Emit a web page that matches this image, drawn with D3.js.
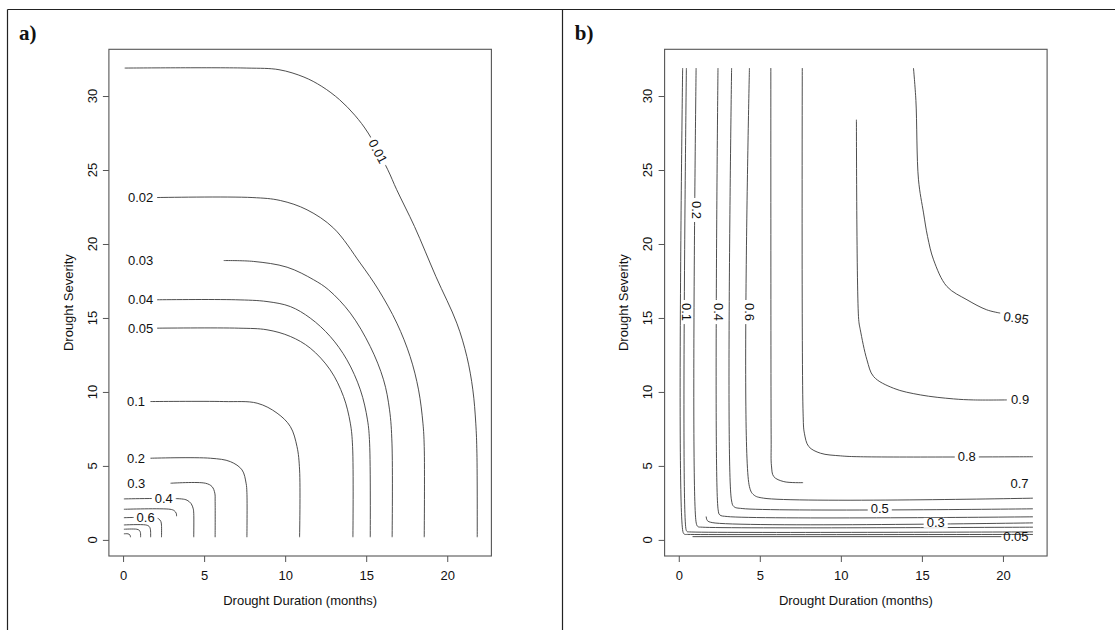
<!DOCTYPE html>
<html>
<head>
<meta charset="utf-8">
<script src="https://cdn.jsdelivr.net/npm/d3@7"></script>
<style>
  body { margin: 0; background: #fff; }
  svg text { font-family: "Liberation Sans", Arial, sans-serif; fill: #111; }
</style>
</head>
<body>
<svg id="chart" width="1115" height="630"></svg>
<script>
// data range of the grid (axes get R's 4% padding on top of it)
const xExtent = [0, 21.85]
const yExtent = [0.18, 31.89]
const xTicks = [0, 5, 10, 15, 20]
const yTicks = [0, 5, 10, 15, 20, 25, 30]
const xMinor = d3.range(0, 23)
const yMinor = d3.range(0, 34)

// panel a) contours, [duration, severity]
const a001 = [[0.1,31.89],[7.63,31.89],[9.62,31.78],[11.16,31.28],[12.26,30.65],[13.36,29.75],[14.3,28.7],[15.12,27.5],[16.33,25.02],[16.88,23.67],[17.98,21.18],[19.3,17.8],[20.59,14.65],[21.21,12.39],[21.58,10.14],[21.76,7.89],[21.83,5.86],[21.85,0.18]]
const a002 = [[2.1,23.14],[7.96,23.14],[9.7,22.94],[11.35,22.31],[12.99,21.07],[14.63,18.71],[15.76,16.9],[16.89,14.65],[17.71,12.39],[18.23,10.14],[18.5,7.89],[18.58,6.31],[18.58,0.18]]
const a003 = [[6.21,18.88],[8.06,18.82],[10.12,18.43],[11.76,17.58],[12.68,16.9],[14.02,15.33],[15.25,13.07],[16.07,10.82],[16.44,8.79],[16.59,6.54],[16.6,0.18]]
const a004 = [[2.1,16.23],[6.93,16.23],[8.88,16.11],[10.32,15.77],[11.55,14.99],[12.78,13.75],[13.81,12.17],[14.64,10.14],[15.08,8.11],[15.21,6.54],[15.25,0.18]]
const a005 = [[2.1,14.31],[7.14,14.31],[8.88,14.2],[10.32,13.75],[11.55,12.96],[12.78,11.49],[13.6,9.69],[14.02,7.89],[14.16,6.31],[14.18,0.18]]
const a01 = [[1.69,9.35],[6.21,9.35],[8.27,9.24],[9.5,8.57],[10.32,7.66],[10.73,6.31],[10.89,4.73],[10.89,0.18]]
const a02 = [[1.69,5.52],[5.39,5.52],[6.62,5.29],[7.34,4.73],[7.59,3.83],[7.64,3.2],[7.64,0.18]]
const a03 = [[2.93,3.83],[5.08,3.83],[5.49,3.6],[5.66,3.16],[5.68,2.6],[5.68,0.18]]
const a04 = [[0.05,2.77],[3.6,2.77],[3.95,2.68],[4.2,2.45],[4.33,2.1],[4.36,1.8],[4.36,0.18]]
const a05 = [[0.05,2.07],[2.9,2.07],[3.15,1.98],[3.28,1.8],[3.3,1.6]]
const a06 = [[0.05,1.5],[1.95,1.5],[2.2,1.42],[2.33,1.25],[2.37,1.0],[2.37,0.18]]
const a07 = [[0.05,1.01],[1.4,1.01],[1.6,0.92],[1.68,0.75],[1.7,0.18]]
const a08 = [[0.05,0.72],[0.85,0.72],[1.0,0.65],[1.07,0.5],[1.08,0.18]]
const a09 = [[0.05,0.41],[0.3,0.41],[0.42,0.34],[0.46,0.18]]
const linesA = [a001, a002, a003, a004, a005, a01, a02, a03, a04, a05, a06, a07, a08, a09]
const labelsA = [
  { text: '0.01', x: 15.72, y: 26.26, rot: 62, knock: true },
  { text: '0.02', x: 1.08, y: 23.14 },
  { text: '0.03', x: 1.08, y: 18.88 },
  { text: '0.04', x: 1.08, y: 16.23 },
  { text: '0.05', x: 1.08, y: 14.31 },
  { text: '0.1', x: 0.8, y: 9.35 },
  { text: '0.2', x: 0.8, y: 5.52 },
  { text: '0.3', x: 0.81, y: 3.83 },
  { text: '0.4', x: 2.51, y: 2.77, knock: true },
  { text: '0.6', x: 1.39, y: 1.5, knock: true }
]

// panel b) contours
const b095 = [[14.48,31.89],[14.63,29.7],[14.79,24.34],[15.1,22.1],[15.35,20.5],[15.72,18.93],[16.54,17.13],[17.78,16.23],[19.0,15.55],[19.83,15.33]]
const b09 = [[10.96,28.4],[11.1,14.9],[11.2,14.2],[11.61,12.17],[12.02,11.04],[13.25,10.25],[14.9,9.8],[16.95,9.53],[18.18,9.46],[20.24,9.46]]
const b08 = [[7.62,31.89],[7.67,8.57],[7.75,7.21],[8.02,6.31],[8.74,5.86],[9.97,5.68],[11.2,5.62],[21.85,5.62]]
const b07 = [[5.68,31.89],[5.7,6.76],[5.72,5.0],[5.86,4.28],[6.48,3.94],[7.67,3.87]]
const b06 = [[4.36,31.89],[4.36,3.6],[4.63,3.04],[5.24,2.82],[21.85,2.82]]
const b05 = [[3.26,31.89],[3.25,2.7],[3.4,2.25],[3.91,2.12],[21.85,2.1]]
const b04 = [[2.42,31.89],[2.43,2.03],[2.53,1.69],[2.99,1.58],[21.85,1.56]]
const b03 = [[1.69,1.58],[1.76,1.31],[2.06,1.17],[21.85,1.15]]
const b02 = [[1.07,31.89],[1.08,1.13],[1.18,0.9],[1.45,0.86],[21.85,0.86]]
const b01 = [[0.47,31.89],[0.45,0.7],[0.52,0.56],[0.65,0.54],[21.85,0.54]]
const b005 = [[0.24,31.89],[0.27,0.5],[0.36,0.38],[0.55,0.37],[21.85,0.37]]
const b005b = [[0.85,0.22],[19.9,0.22]]
const linesB = [b095, b09, b08, b07, b06, b05, b04, b03, b02, b01, b005, b005b]
const labelsB = [
  { text: '0.95', x: 20.82, y: 15.0, rot: 8 },
  { text: '0.9', x: 21.06, y: 9.46 },
  { text: '0.8', x: 17.77, y: 5.62, knock: true },
  { text: '0.7', x: 21.02, y: 3.83 },
  { text: '0.6', x: 4.36, y: 15.4, rot: 90, knock: true },
  { text: '0.5', x: 12.4, y: 2.1, knock: true },
  { text: '0.4', x: 2.43, y: 15.4, rot: 90, knock: true },
  { text: '0.3', x: 15.85, y: 1.15, knock: true },
  { text: '0.2', x: 1.08, y: 22.3, rot: 90, knock: true },
  { text: '0.1', x: 0.5, y: 15.4, rot: 90, knock: true },
  { text: '0.05', x: 20.8, y: 0.25 }
]

const svg = d3.select('#chart')
svg.append('rect').attr('width', 1115).attr('height', 630).attr('fill', '#fff')

// table-like frame around the two panels
const frame = svg.append('g').attr('stroke', '#222').attr('stroke-width', 1.2)
frame.append('line').attr('x1', 7.5).attr('x2', 1115).attr('y1', 9.5).attr('y2', 9.5)
frame.append('line').attr('x1', 7.5).attr('x2', 7.5).attr('y1', 9.5).attr('y2', 630)
frame.append('line').attr('x1', 562.5).attr('x2', 562.5).attr('y1', 9.5).attr('y2', 630)

const box = { left: 108.9, right: 491.4, top: 49.3, bottom: 556 }
const padX = 0.04 * (xExtent[1] - xExtent[0])
const padY = 0.04 * (yExtent[1] - yExtent[0])
const x = d3.scaleLinear()
    .domain([xExtent[0] - padX, xExtent[1] + padX])
    .range([box.left, box.right])
const y = d3.scaleLinear()
    .domain([yExtent[0] - padY, yExtent[1] + padY])
    .range([box.bottom, box.top])

const line = d3.line()
    .x(d => x(d[0]))
    .y(d => y(d[1]))
    .curve(d3.curveCatmullRom.alpha(0.5))

const make_panel = (offset, tag, lines, labels) => {
    const g = svg.append('g').attr('transform', `translate(${offset},0)`)

    g.append('text')
        .attr('x', 19).attr('y', 40)
        .style('font-family', '"Liberation Serif", "Times New Roman", serif')
        .attr('font-weight', 'bold')
        .attr('font-size', 21)
        .text(tag)

    // axes, R style: major + minor ticks, rotated y labels
    const xAxis = g.append('g').attr('transform', `translate(0,${box.bottom})`)
    xAxis.call(d3.axisBottom(x).tickValues(xMinor).tickSize(3).tickFormat(''))
    xAxis.call(d3.axisBottom(x).tickValues(xTicks).tickSize(6).tickPadding(9).tickFormat(d3.format('d')))
    xAxis.selectAll('.domain').remove()
    xAxis.selectAll('line').attr('stroke', '#555')
    xAxis.selectAll('text').attr('font-size', 13).attr('fill', '#111').style('font-family', '"Liberation Sans", Arial, sans-serif')

    const yAxis = g.append('g').attr('transform', `translate(${box.left},0)`)
    yAxis.call(d3.axisLeft(y).tickValues(yMinor).tickSize(3).tickFormat(''))
    yAxis.call(d3.axisLeft(y).tickValues(yTicks).tickSize(6).tickFormat(''))
    yAxis.selectAll('.domain').remove()
    yAxis.selectAll('line').attr('stroke', '#555')
    g.append('g').selectAll('text')
        .data(yTicks)
        .join('text')
        .attr('transform', d => `translate(92,${y(d)}) rotate(-90)`)
        .attr('text-anchor', 'middle')
        .attr('dy', '0.35em')
        .attr('font-size', 13)
        .text(d => d)

    g.append('rect')
        .attr('x', box.left).attr('y', box.top)
        .attr('width', box.right - box.left).attr('height', box.bottom - box.top)
        .attr('fill', 'none').attr('stroke', '#555').attr('stroke-width', 1.1)

    g.append('text')
        .attr('x', (box.left + box.right) / 2).attr('y', 600)
        .attr('text-anchor', 'middle').attr('dy', '0.35em')
        .attr('font-size', 13)
        .text('Drought Duration (months)')
    g.append('text')
        .attr('transform', `translate(68,${(box.top + box.bottom) / 2}) rotate(-90)`)
        .attr('text-anchor', 'middle').attr('dy', '0.35em')
        .attr('font-size', 13)
        .text('Drought Severity')

    g.append('g').selectAll('path')
        .data(lines)
        .join('path')
        .attr('fill', 'none')
        .attr('stroke', '#3a3a3a')
        .attr('stroke-width', 0.9)
        .attr('d', line)

    labels.forEach(l => {
        const lg = g.append('g')
            .attr('transform', `translate(${x(l.x)},${y(l.y)}) rotate(${l.rot || 0})`)
        const t = lg.append('text')
            .attr('text-anchor', 'middle').attr('dy', '0.35em')
            .attr('font-size', 13)
            .text(l.text)
        if (l.knock) {
            const bb = t.node().getBBox()
            lg.insert('rect', 'text')
                .attr('x', bb.x - 3).attr('y', -5)
                .attr('width', bb.width + 6).attr('height', 10)
                .attr('fill', '#fff')
        }
    })
}

make_panel(0, 'a)', linesA, labelsA)
make_panel(555.7, 'b)', linesB, labelsB)
</script>
</body>
</html>
